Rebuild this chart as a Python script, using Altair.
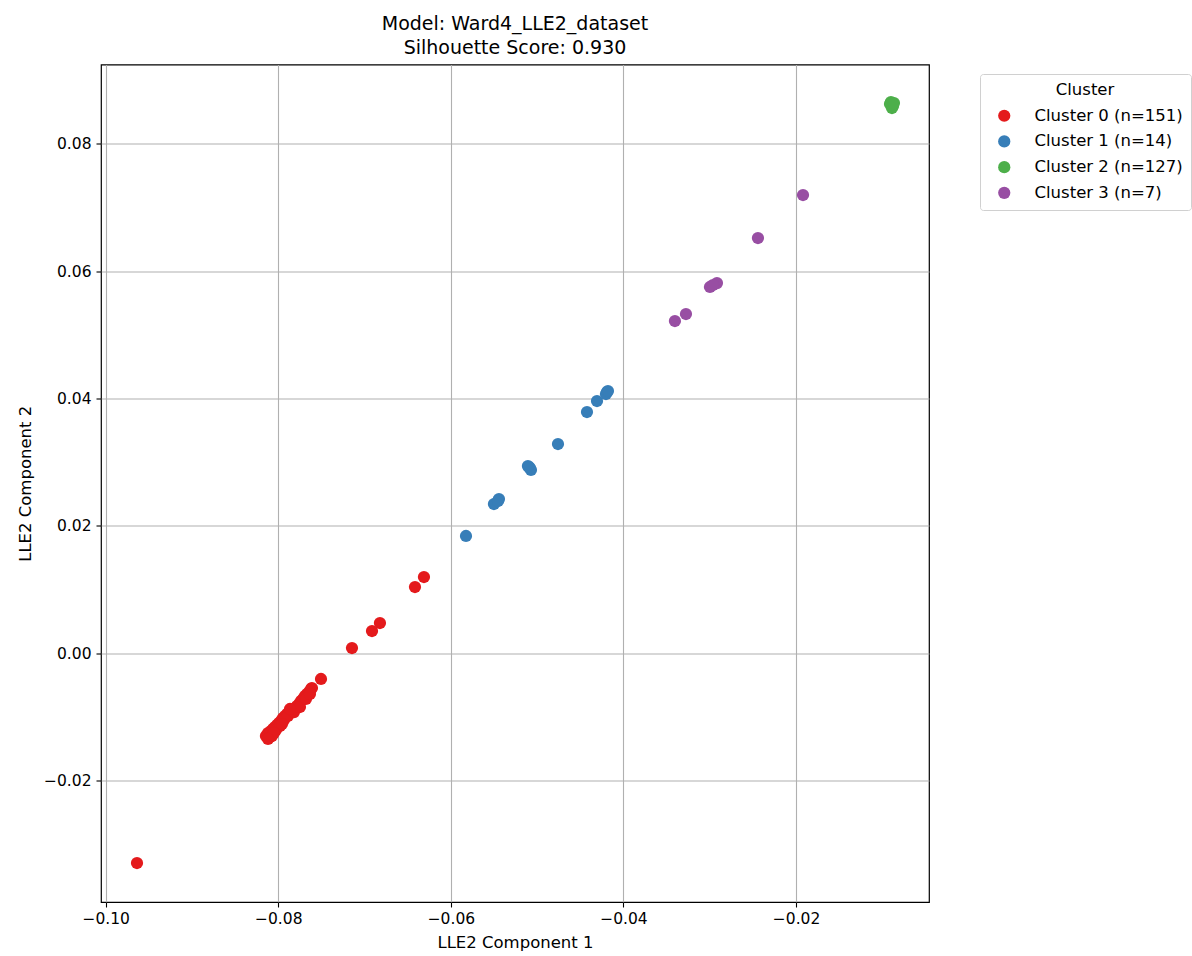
import altair as alt
import pandas as pd

# Cluster labels and their Set1 colours
cluster_names = ["Cluster 0 (n=151)", "Cluster 1 (n=14)", "Cluster 2 (n=127)", "Cluster 3 (n=7)"]
cluster_colors = ["#e41a1c", "#377eb8", "#4daf4a", "#984ea3"]

# LLE2 embedding coordinates per cluster
c0_x = [-0.09637, -0.07505, -0.07146, -0.06914, -0.06822, -0.06416, -0.06312,
        -0.08143, -0.08119, -0.08096, -0.08085, -0.08062, -0.08038, -0.08015, -0.07992,
        -0.07969, -0.07946, -0.07922, -0.07899, -0.07876, -0.07853, -0.07830, -0.07807,
        -0.07783, -0.07760, -0.07737, -0.07714, -0.07691, -0.07668, -0.07644, -0.07621,
        -0.07610,
        -0.08073, -0.08027, -0.07980, -0.07934, -0.07888, -0.07818, -0.07749, -0.07679,
        -0.07633, -0.07864, -0.07957, -0.08050, -0.08119]
c0_y = [-0.03292, -0.00403, 0.00083, 0.00350, 0.00476, 0.01041, 0.01198,
        -0.01298, -0.01251, -0.01314, -0.01220, -0.01188, -0.01157, -0.01126, -0.01094,
        -0.01063, -0.01016, -0.00984, -0.00953, -0.00922, -0.00906, -0.00874, -0.00859,
        -0.00827, -0.00796, -0.00749, -0.00717, -0.00670, -0.00639, -0.00608, -0.00560,
        -0.00545,
        -0.01298, -0.01204, -0.01141, -0.01047, -0.00984, -0.00922, -0.00843, -0.00717,
        -0.00639, -0.00874, -0.01110, -0.01251, -0.01345]

c1_x = [-0.05825, -0.05501, -0.05443, -0.05095, -0.05072, -0.04759, -0.04423,
        -0.04307, -0.04191, -0.04203, -0.05084, -0.05454, -0.04180, -0.05107]
c1_y = [0.01842, 0.02344, 0.02422, 0.02925, 0.02878, 0.03286, 0.03788,
        0.03961, 0.04102, 0.04071, 0.02909, 0.02391, 0.04118, 0.02940]

c2_x = [-0.00901, -0.00877, -0.00912, -0.00889, -0.00866]
c2_y = [0.08655, 0.08592, 0.08624, 0.08561, 0.08639]

c3_x = [-0.01920, -0.02442, -0.02917, -0.02998, -0.02963, -0.03276, -0.03404]
c3_y = [0.07195, 0.06520, 0.05813, 0.05751, 0.05782, 0.05327, 0.05217]

x_ticks = [-0.10, -0.08, -0.06, -0.04, -0.02]
y_ticks = [-0.02, 0.00, 0.02, 0.04, 0.06, 0.08]

frames = []
for name, xs, ys in zip(cluster_names, [c0_x, c1_x, c2_x, c3_x], [c0_y, c1_y, c2_y, c3_y]):
    frames.append(pd.DataFrame({"x": xs, "y": ys, "cluster": name}))
df = pd.concat(frames, ignore_index=True)

FONT = "DejaVu Sans"

chart = (
    alt.Chart(df)
    .mark_circle(size=150, opacity=1)
    .encode(
        x=alt.X(
            "x:Q",
            scale=alt.Scale(domain=[-0.10054, -0.00460], nice=False, zero=False),
            axis=alt.Axis(values=x_ticks, format=".2f", title="LLE2 Component 1",
                          labelFlush=False, titlePadding=8),
        ),
        y=alt.Y(
            "y:Q",
            scale=alt.Scale(domain=[-0.03904, 0.09244], nice=False, zero=False),
            axis=alt.Axis(values=y_ticks, format=".2f", title="LLE2 Component 2",
                          labelFlush=False, titlePadding=10, labelPadding=5),
        ),
        color=alt.Color(
            "cluster:N",
            scale=alt.Scale(domain=cluster_names, range=cluster_colors),
            legend=alt.Legend(
                title="Cluster",
                orient="none",
                legendX=879,
                legendY=9.5,
                symbolType="circle",
                symbolSize=150,
                symbolStrokeWidth=0,
                symbolOpacity=1,
                symbolOffset=8,
                labelOffset=22,
                labelLimit=300,
                rowPadding=8.7,
                titlePadding=9,
                titleAnchor="middle",
                padding=8,
                strokeColor="#d0d0d0",
                fillColor="white",
                cornerRadius=3,
            ),
        ),
    )
    .properties(
        width=828,
        height=837.5,
        title=alt.TitleParams(
            text=["Model: Ward4_LLE2_dataset", "Silhouette Score: 0.930"],
            font=FONT,
            fontSize=19,
            fontWeight="normal",
            color="black",
            anchor="middle",
            lineHeight=24,
            offset=7,
        ),
        padding={"left": 101, "top": 64.5, "right": 263, "bottom": 54},
        autosize="none",
    )
    .configure_view(stroke="black", strokeWidth=1.2)
    .configure_axis(
        grid=True,
        gridColor="#b0b0b0",
        gridWidth=1.1,
        domain=False,
        tickColor="black",
        tickSize=5,
        tickWidth=1.1,
        labelFont=FONT,
        labelFontSize=15.5,
        labelColor="black",
        labelPadding=4,
        titleFont=FONT,
        titleFontSize=16.5,
        titleFontWeight="normal",
        titleColor="black",
    )
    .configure_legend(
        labelFont=FONT,
        labelFontSize=16.5,
        labelColor="black",
        titleFont=FONT,
        titleFontSize=16.5,
        titleFontWeight="normal",
        titleColor="black",
    )
)

chart.save("out.html", embed_options={"renderer": "svg", "actions": False})
